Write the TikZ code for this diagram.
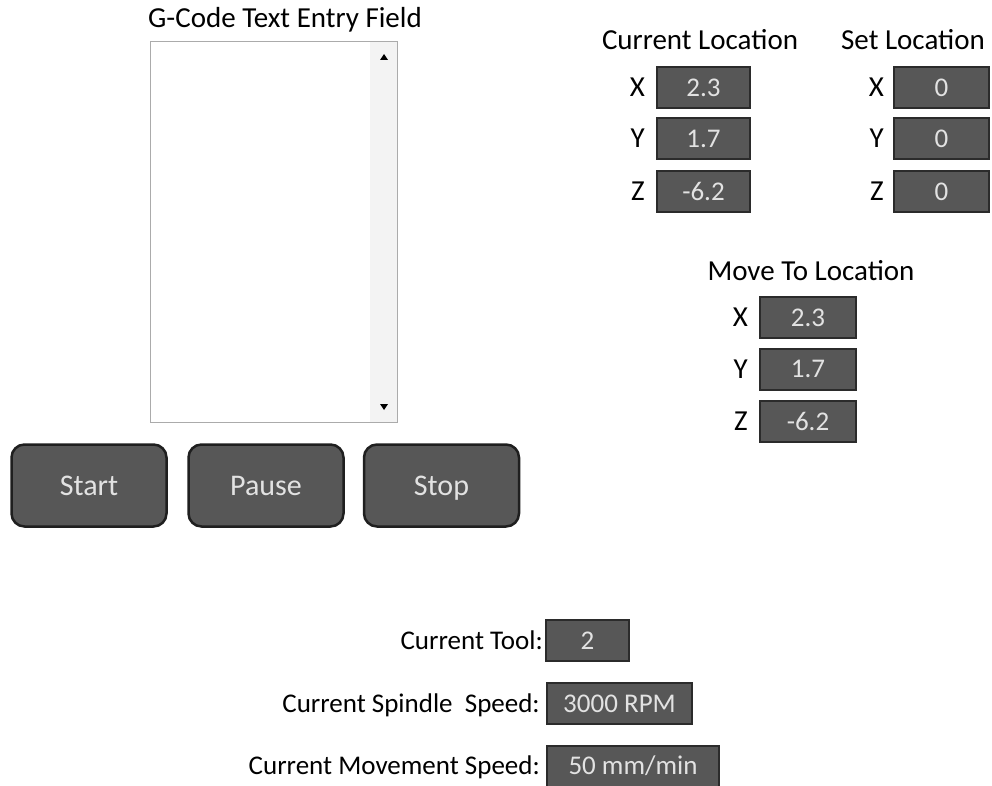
\documentclass[tikz,border=0pt]{standalone}
\usepackage{fontspec}
\setmainfont{Carlito}
\usetikzlibrary{positioning}

\definecolor{panelgray}{HTML}{575757}
\definecolor{edgegray}{HTML}{2B2B2B}
\definecolor{valtext}{HTML}{E2E2E2}
\definecolor{trackgray}{HTML}{F3F3F3}
\definecolor{framegray}{HTML}{ABABAB}

\newcommand*{\boxgap}{11pt}

\begin{document}
\begin{tikzpicture}
[
	x=1pt, y=-1pt,
	heading/.style={font=\fontsize{29}{34}\selectfont, anchor=base, inner sep=0pt},
	axislbl/.style={font=\fontsize{29}{34}\selectfont, inner sep=0pt, text height=18pt, text depth=0pt},
	rowlbl/.style={font=\fontsize{27}{32}\selectfont, inner sep=0pt, text height=17.5pt, text depth=0pt},
	valbox/.style={draw=edgegray, line width=2pt, fill=panelgray, text=valtext, minimum height=41pt, inner sep=0pt, text height=17.5pt, text depth=0pt, font=\fontsize{27}{32}\selectfont},
	gobtn/.style={draw=black!88, line width=2.5pt, fill=panelgray, rounded corners=13pt, minimum width=155pt, minimum height=82pt, inner sep=0pt, text height=19pt, text depth=0pt, text=valtext, font=\fontsize{30}{36}\selectfont}
]

	\useasboundingbox[fill=white] (0,0) rectangle (992,786);

	% g-code entry field
	\node[heading] (gtitle) at (285,28) {G-Code Text Entry Field};
	\fill[trackgray] (370,42) rectangle (397,422);
	\node[draw=framegray, line width=1.2pt, minimum width=247pt, minimum height=381pt, inner sep=0pt] (gfield) at (274,232) {};
	\fill (380,60) -- (388,60) -- (384,54) -- cycle;
	\fill (380,404) -- (388,404) -- (384,410) -- cycle;

	% buttons
	\node[gobtn] (start) at (89,485.5) {Start};
	\node[gobtn] (pause) at (266,485.5) {Pause};
	\node[gobtn] (stop) at (441.5,485.5) {Stop};

	% current location
	\node[heading] (curtitle) at (700,50) {Current Location};
	\node[valbox, minimum width=93pt] (curx) at (703.5,88) {2.3};
	\node[valbox, minimum width=93pt] (cury) at (703.5,138.5) {1.7};
	\node[valbox, minimum width=93pt] (curz) at (703.5,192) {-6.2};
	\node[axislbl, left=\boxgap of curx] {X};
	\node[axislbl, left=\boxgap of cury] {Y};
	\node[axislbl, left=\boxgap of curz] {Z};

	% set location
	\node[heading] (settitle) at (913,50) {Set Location};
	\node[valbox, minimum width=95pt] (setx) at (941.5,88) {0};
	\node[valbox, minimum width=95pt] (sety) at (941.5,138.5) {0};
	\node[valbox, minimum width=95pt] (setz) at (941.5,192) {0};
	\node[axislbl, left=9pt of setx] {X};
	\node[axislbl, left=9pt of sety] {Y};
	\node[axislbl, left=9pt of setz] {Z};

	% move to location
	\node[heading] (movetitle) at (811,280) {Move To Location};
	\node[valbox, minimum width=96pt] (movex) at (808,317.5) {2.3};
	\node[valbox, minimum width=96pt] (movey) at (808,369) {1.7};
	\node[valbox, minimum width=96pt] (movez) at (808,421.5) {-6.2};
	\node[axislbl, left=\boxgap of movex] {X};
	\node[axislbl, left=\boxgap of movey] {Y};
	\node[axislbl, left=\boxgap of movez] {Z};

	% status rows
	\node[valbox, minimum width=83pt] (tool) at (587.5,640.5) {2};
	\node[valbox, minimum width=145pt] (spindle) at (619.5,703.5) {3000 RPM};
	\node[valbox, minimum width=172pt] (feed) at (633,766) {50 mm/min};
	\node[rowlbl, left=2pt of tool] {Current Tool:};
	\node[rowlbl, left=6pt of spindle] {Current Spindle\ \ Speed:};
	\node[rowlbl, left=6pt of feed] {Current Movement\ Speed:};

\end{tikzpicture}
\end{document}
